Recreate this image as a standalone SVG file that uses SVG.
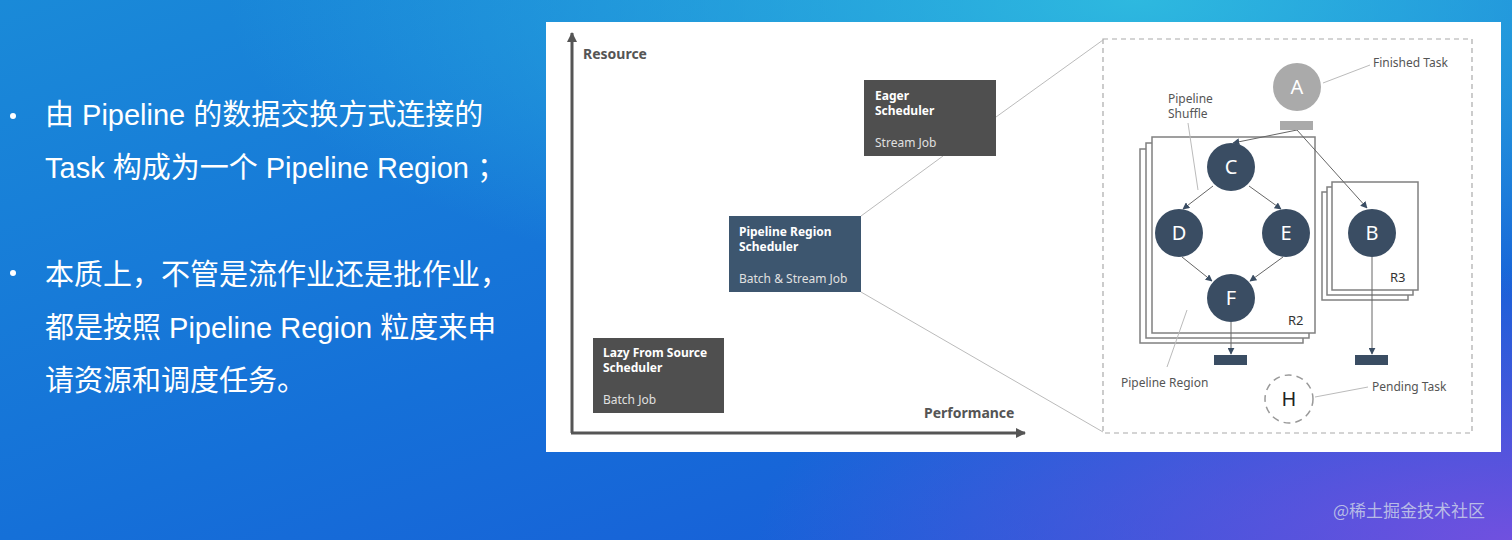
<svg xmlns="http://www.w3.org/2000/svg" width="1512" height="540" viewBox="0 0 1512 540">
<defs>
<linearGradient id="bg" x1="0" y1="0" x2="1" y2="1">
<stop offset="0" stop-color="#1a8ad8"/>
<stop offset="0.5" stop-color="#1570d8"/>
<stop offset="1" stop-color="#1a55d8"/>
</linearGradient>
<radialGradient id="glowTR" cx="0.75" cy="0" r="0.6">
<stop offset="0" stop-color="#30c0e0" stop-opacity="0.9"/>
<stop offset="1" stop-color="#30c0e0" stop-opacity="0"/>
</radialGradient>
<radialGradient id="glowBR" cx="1" cy="1" r="0.5">
<stop offset="0" stop-color="#7a50e0" stop-opacity="0.9"/>
<stop offset="1" stop-color="#7a50e0" stop-opacity="0"/>
</radialGradient>
<marker id="ah" viewBox="0 0 10 10" refX="9" refY="5" markerWidth="7" markerHeight="7" orient="auto" markerUnits="userSpaceOnUse">
<path d="M0,0 L10,5 L0,10 z" fill="#3a4d63"/>
</marker>
<marker id="axh" viewBox="0 0 10 10" refX="9" refY="5" markerWidth="10" markerHeight="10" orient="auto" markerUnits="userSpaceOnUse">
<path d="M0,0 L10,5 L0,10 z" fill="#555"/>
</marker>
<style>
.cn{font-family:"Liberation Sans","Noto Sans CJK SC",sans-serif;font-size:29px;fill:#ffffff}
.ax{font-family:"Noto Sans","Liberation Sans",sans-serif;font-size:14px;font-weight:bold;fill:#555}
.bt{font-family:"Noto Sans","Liberation Sans",sans-serif;font-size:12px;font-weight:bold;fill:#fff}
.bs{font-family:"Noto Sans","Liberation Sans",sans-serif;font-size:12px;fill:#e0e0e0}
.lb{font-family:"Noto Sans","Liberation Sans",sans-serif;font-size:12px;fill:#555}
.nl{font-family:"Noto Sans","Liberation Sans",sans-serif;font-size:20px;fill:#fff;text-anchor:middle}
.rl{font-family:"Noto Sans","Liberation Sans",sans-serif;font-size:13px;fill:#333}
.task{fill:#3a4d63}
.reg{fill:#fff;stroke:#808080;stroke-width:1.5}
.thin{stroke:#bbb;stroke-width:1;fill:none}
.edge{stroke:#666;stroke-width:1;fill:none;marker-end:url(#ah)}
</style>
</defs>
<rect width="1512" height="540" fill="url(#bg)"/>
<rect width="1512" height="540" fill="url(#glowTR)"/>
<rect width="1512" height="540" fill="url(#glowBR)"/>

<g id="bullets">
<circle cx="13" cy="116" r="3" fill="#fff"/>
<text class="cn" x="45" y="125">由 Pipeline 的数据交换方式连接的</text>
<text class="cn" x="45" y="178">Task 构成为一个 Pipeline Region ；</text>
<circle cx="13" cy="273" r="3" fill="#fff"/>
<text class="cn" x="45" y="285">本质上，不管是流作业还是批作业，</text>
<text class="cn" x="45" y="338">都是按照 Pipeline Region 粒度来申</text>
<text class="cn" x="45" y="391">请资源和调度任务。</text>
</g>

<rect x="546" y="22" width="955" height="430" fill="#fff"/>

<g id="axes">
<line x1="572" y1="433" x2="572" y2="33" stroke="#555" stroke-width="3" marker-end="url(#axh)"/>
<line x1="571" y1="433" x2="1025" y2="433" stroke="#555" stroke-width="3" marker-end="url(#axh)"/>
<text class="ax" x="583" y="59">Resource</text>
<text class="ax" x="924" y="418">Performance</text>
</g>

<g id="detail">
<rect x="1103" y="39" width="369" height="394" fill="none" stroke="#aaa" stroke-width="1.2" stroke-dasharray="5,4"/>
</g>

<g id="R2">
<rect class="reg" x="1140" y="149" width="163" height="194"/>
<rect class="reg" x="1146" y="143" width="163" height="195"/>
<rect class="reg" x="1152" y="137" width="163" height="196"/>
<text class="rl" x="1288" y="325">R2</text>
</g>
<g id="R3">
<rect class="reg" x="1322" y="192" width="86" height="108"/>
<rect class="reg" x="1327" y="187" width="86" height="108"/>
<rect class="reg" x="1332" y="182" width="86" height="108"/>
<text class="rl" x="1390" y="282">R3</text>
</g>

<g id="connectors">
<line class="thin" x1="996" y1="117" x2="1103" y2="40"/>
<line class="thin" x1="861" y1="216" x2="943" y2="156"/>
<line class="thin" x1="861" y1="292" x2="1103" y2="432"/>
<line class="edge" x1="1297" y1="130" x2="1233" y2="143"/>
<line class="edge" x1="1297" y1="130" x2="1367" y2="208"/>
<line class="edge" x1="1213" y1="186" x2="1183" y2="209"/>
<line class="edge" x1="1249" y1="186" x2="1281" y2="209"/>
<line class="edge" x1="1182" y1="257" x2="1212" y2="281"/>
<line class="edge" x1="1283" y1="257" x2="1250" y2="281"/>
<line class="edge" x1="1231" y1="322" x2="1231" y2="354"/>
<line class="edge" x1="1372" y1="257" x2="1372" y2="354"/>
<line class="thin" x1="1323" y1="83" x2="1370" y2="65"/>
<line class="thin" x1="1188" y1="123" x2="1198" y2="190"/>
<line class="thin" x1="1167" y1="367" x2="1187" y2="310"/>
<line class="thin" x1="1315" y1="397" x2="1368" y2="387"/>
</g>

<g id="eager">
<rect x="864" y="80" width="132" height="76" fill="#4f4f4f"/>
<text class="bt" x="875" y="100">Eager</text>
<text class="bt" x="875" y="115">Scheduler</text>
<text class="bs" x="875" y="147">Stream Job</text>
</g>
<g id="pipeline-region-scheduler">
<rect x="729" y="216" width="132" height="76" fill="#3d566f"/>
<text class="bt" x="739" y="236">Pipeline Region</text>
<text class="bt" x="739" y="251">Scheduler</text>
<text class="bs" x="739" y="283">Batch &amp; Stream Job</text>
</g>
<g id="lazy">
<rect x="593" y="338" width="131" height="75" fill="#4f4f4f"/>
<text class="bt" x="603" y="357">Lazy From Source</text>
<text class="bt" x="603" y="372">Scheduler</text>
<text class="bs" x="603" y="404">Batch Job</text>
</g>

<g id="A">
<circle cx="1297" cy="87" r="24" fill="#aaaaaa"/>
<text class="nl" x="1297" y="94">A</text>
<rect x="1280" y="121" width="33" height="9" fill="#aaaaaa"/>
</g>
<g id="C"><circle class="task" cx="1231" cy="167" r="24"/><text class="nl" x="1231" y="174">C</text></g>
<g id="D"><circle class="task" cx="1179" cy="233" r="24"/><text class="nl" x="1179" y="240">D</text></g>
<g id="E"><circle class="task" cx="1286" cy="233" r="24"/><text class="nl" x="1286" y="240">E</text></g>
<g id="F"><circle class="task" cx="1231" cy="298" r="24"/><text class="nl" x="1231" y="305">F</text></g>
<g id="B"><circle class="task" cx="1372" cy="233" r="24"/><text class="nl" x="1372" y="240">B</text></g>
<g id="H"><circle cx="1289" cy="399" r="24" fill="#fff" stroke="#999" stroke-width="1.5" stroke-dasharray="7,5"/><text class="nl" x="1289" y="406" style="fill:#222">H</text></g>
<g id="bars">
<rect x="1214" y="355" width="33" height="10" fill="#3a4d63"/>
<rect x="1355" y="355" width="33" height="10" fill="#3a4d63"/>
</g>
<g id="labels">
<text class="lb" x="1373" y="67">Finished Task</text>
<text class="lb" x="1168" y="103">Pipeline</text>
<text class="lb" x="1168" y="118">Shuffle</text>
<text class="lb" x="1121" y="387">Pipeline Region</text>
<text class="lb" x="1372" y="391">Pending Task</text>
</g>

<text x="1333" y="517" style="font-family:'Noto Sans CJK SC','Noto Sans',sans-serif;font-size:17px;fill:#c8cfe8;fill-opacity:0.85">@稀土掘金技术社区</text>
</svg>
